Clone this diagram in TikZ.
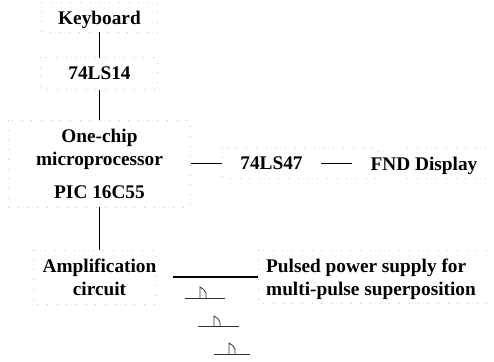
\documentclass[tikz,border=0pt]{standalone}
\usepackage{fontspec}
\setmainfont{Liberation Serif}
\begin{document}
\begin{tikzpicture}[x=1pt,y=-1pt,
  blk/.style={inner sep=0pt,outer sep=0pt,font=\bfseries\fontsize{19.3}{23}\selectfont,align=center,text=black,
     minimum width=#1,text depth=0pt},
  speck/.style={draw=black!22,line width=.5pt,dash pattern=on .7pt off 9pt},
  conn/.style={draw=black,line width=1.1pt},
  pulse/.style={draw=black!80,line width=.8pt}]
\useasboundingbox (0,0) rectangle (494,361);
\fill[white] (0,0) rectangle (494,361);
% faint scan traces of the original frames
\draw[speck] (41,2) rectangle (157,32);
\draw[speck] (40,57) rectangle (157,89);
\draw[speck] (8,120) rectangle (190,207);
\draw[speck] (33,250) rectangle (155,304);
\draw[speck] (222,147) rectangle (378,178);
\draw[speck] (407,147) -- (490,147) (407,178) -- (490,178);
\draw[speck] (258,250) rectangle (494,303);
% blocks
\node[blk=116pt,minimum height=30pt] (kb) at (99.5,17.5) {Keyboard};
\node[blk=116pt,minimum height=32pt] (ls14) at (99.5,73.5) {74LS14};
\node[blk=183pt,minimum height=87pt] (cpu) at (99.5,163.5) {One-chip\\microprocessor\\[10pt]PIC 16C55};
\node[blk=147pt,minimum height=54pt] (amp) at (99.5,277) {Amplification\\circuit};
\node[blk=99pt,minimum height=31pt] (ls47) at (271.5,163.5) {74LS47};
\node[blk=138pt,minimum height=31pt] (fnd) at (421,163.5) {\hspace*{6pt}FND Display};
\node[blk=226pt,minimum height=53pt,align=left] (psu) at (371,277) {Pulsed power supply for\\multi-pulse superposition};
% connectors
\draw[conn] (kb.south) -- (ls14.north);
\draw[conn] (ls14.south) -- (cpu.north);
\draw[conn] (cpu.south) -- (amp.north);
\draw[conn] (cpu.east) -- (ls47.west);
\draw[conn] (ls47.east) -- (fnd.west);
\draw[conn,line width=1.5pt] (amp.east) -- (psu.west);
% pulses
\draw[pulse] (185,298.7) -- (225,298.7);
\draw[pulse] (200,298.7) -- (200,287) .. controls (203,288.5) and (205,290.5) .. (206,293) -- (206,298.7);
\draw[pulse] (198,326.5) -- (239,326.5);
\draw[pulse] (214,326.5) -- (214,316) .. controls (217,317.5) and (219,319.5) .. (220,322) -- (220,326.5);
\draw[pulse] (214,354) -- (250,354);
\draw[pulse] (229,354) -- (229,343) .. controls (232,344.5) and (234,346.5) .. (235,349) -- (235,354);
\end{tikzpicture}
\end{document}
